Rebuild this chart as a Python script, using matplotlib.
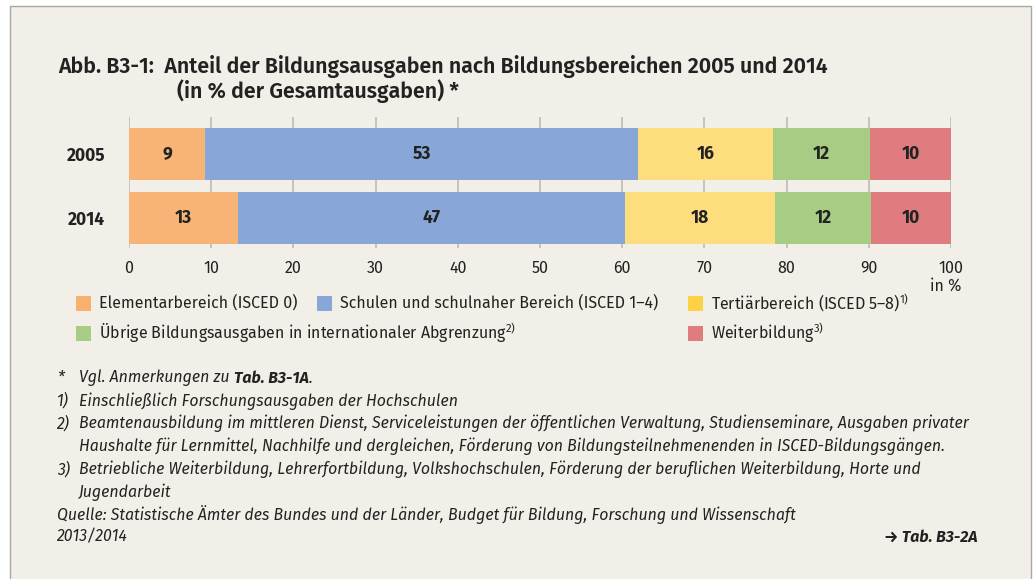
import matplotlib
matplotlib.use('Agg')
import numpy as np
from matplotlib import pyplot as plt
from matplotlib.patches import Rectangle

# Daten (Anteil in % der Gesamtausgaben)
jahre = ['2005', '2014']
bereiche = ['Elementarbereich (ISCED 0)',
            'Schulen und schulnaher Bereich (ISCED 1–4)',
            'Tertiärbereich (ISCED 5–8)',
            'Übrige Bildungsausgaben in internationaler Abgrenzung',
            'Weiterbildung']
fussnote_legende = ['', '', '1)', '2)', '3)']
werte_2005 = [9.3, 52.6, 16.4, 11.9, 9.8]
werte_2014 = [13.3, 47.0, 18.3, 11.7, 9.7]
x_ticks = [0, 10, 20, 30, 40, 50, 60, 70, 80, 90, 100]

farben = ['#f7b476', '#88a7d8', '#fedd7f', '#a7cd85', '#df7c80']
farben_legende = ['#f8b06e', '#88a7d8', '#fed246', '#a7cd85', '#df7c80']

titel_font = ['Fira Sans', 'DejaVu Sans']
plt.rcParams['font.family'] = ['Fira Sans', 'DejaVu Sans']
plt.rcParams['mathtext.fontset'] = 'custom'
plt.rcParams['mathtext.rm'] = 'Fira Sans'
txt = '#222222'
hg = '#f2efe8'

fig = plt.figure(figsize=(10.34, 5.79), dpi=100)
fig.patch.set_facecolor('white')
fig.patches.append(Rectangle((10 / 1034, -0.01), 1021 / 1034, 1 - 6 / 579 + 0.01,
                             transform=fig.transFigure, facecolor=hg,
                             edgecolor='#a8a8a8', linewidth=1.0, zorder=-5))

ax = fig.add_axes([129 / 1034, 1 - 248 / 579, 822 / 1034, 131 / 579])
ax.set_facecolor('none')

y = np.arange(len(jahre))
daten = np.array([werte_2005, werte_2014])
links = np.zeros(len(jahre))
for i in range(len(bereiche)):
    ax.barh(y, daten[:, i], left=links, height=0.81, color=farben[i], zorder=2)
    for j in range(len(jahre)):
        ax.text(links[j] + daten[j, i] / 2, y[j], f'{round(daten[j, i]):d}',
                ha='center', va='center', fontsize=12.5, fontweight='bold', color=txt, zorder=3)
    links += daten[:, i]

ax.set_xlim(0, 100)
ax.set_ylim(1.47, -0.58)
ax.set_xticks(x_ticks)
ax.set_xticklabels([str(t) for t in x_ticks], fontsize=11.5, color=txt)
ax.set_yticks(y)
ax.set_yticklabels(jahre, fontsize=12.5, fontweight='bold', color=txt)
ax.tick_params(axis='x', length=0, pad=9)
ax.tick_params(axis='y', length=0, pad=17)
ax.grid(axis='x', color='#b8b8b8', linewidth=1.1, zorder=1)
for s in ax.spines.values():
    s.set_visible(False)
fig.text(946 / 1034, 1 - 286 / 579, 'in %', ha='center', va='center', fontsize=11.5, color=txt)

# Titel
fig.text(58 / 1034, 1 - 67 / 579, 'Abb. B3-1:  Anteil der Bildungsausgaben nach Bildungsbereichen 2005 und 2014',
         fontsize=15.4, fontweight='semibold', family=titel_font, color=txt, va='center')
fig.text(177 / 1034, 1 - 91 / 579, '(in % der Gesamtausgaben) *',
         fontsize=15.4, fontweight='semibold', family=titel_font, color=txt, va='center')

# Legende
pos = [(76, 303), (317, 303), (688, 303), (76, 333), (688, 333)]
for (px, py), f, name, fn in zip(pos, farben_legende, bereiche, fussnote_legende):
    fig.patches.append(Rectangle((px / 1034, 1 - (py + 7.5) / 579), 15 / 1034, 15 / 579,
                                 transform=fig.transFigure, facecolor=f, edgecolor='none'))
    label = name + (f'$^{{{fn}}}$' if fn else '')
    fig.text((px + 23) / 1034, 1 - py / 579, label, fontsize=11.5, color=txt, va='center')

# Anmerkungen
zeilen = [('*', 'Vgl. Anmerkungen zu '),
          ('1)', 'Einschließlich Forschungsausgaben der Hochschulen'),
          ('2)', 'Beamtenausbildung im mittleren Dienst, Serviceleistungen der öffentlichen Verwaltung, Studienseminare, Ausgaben privater'),
          ('', 'Haushalte für Lernmittel, Nachhilfe und dergleichen, Förderung von Bildungsteilnehmenenden in ISCED-Bildungsgängen.'),
          ('3)', 'Betriebliche Weiterbildung, Lehrerfortbildung, Volkshochschulen, Förderung der beruflichen Weiterbildung, Horte und'),
          ('', 'Jugendarbeit')]
fs = 11.45
for k, (nr, t) in enumerate(zeilen):
    yy = 1 - (378 + k * 22.8) / 579
    if nr:
        fig.text(57 / 1034, yy, nr, fontsize=fs, style='italic', color=txt, va='center')
    tx = fig.text(79 / 1034, yy, t, fontsize=fs, style='italic', color=txt, va='center')
    if k == 0:
        fig.canvas.draw()
        bb = tx.get_window_extent()
        t2 = fig.text(bb.x1 / 1034, yy, 'Tab. B3-1A', fontsize=fs, style='italic',
                      fontweight='bold', color=txt, va='center')
        bb2 = t2.get_window_extent()
        fig.text(bb2.x1 / 1034, yy, '.', fontsize=fs, style='italic', color=txt, va='center')

fig.text(57 / 1034, 1 - 515 / 579, 'Quelle: Statistische Ämter des Bundes und der Länder, Budget für Bildung, Forschung und Wissenschaft',
         fontsize=fs, style='italic', color=txt, va='center')
fig.text(57 / 1034, 1 - 537 / 579, '2013/2014', fontsize=fs, style='italic', color=txt, va='center')
fig.text(978 / 1034, 1 - 537 / 579, '→ Tab. B3-2A', fontsize=fs, style='italic', fontweight='bold',
         color=txt, va='center', ha='right')

fig.savefig('out.png', dpi=100, facecolor=fig.get_facecolor())
